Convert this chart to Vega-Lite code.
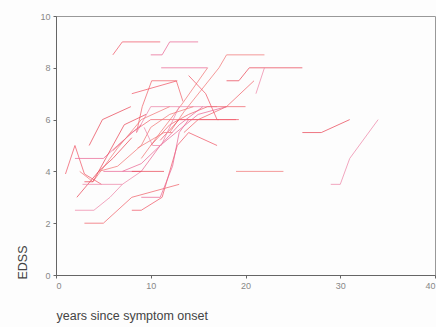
{
  "$schema": "https://vega.github.io/schema/vega-lite/v6.json",
  "width": 379,
  "height": 259,
  "autosize": "none",
  "padding": {"left": 56, "top": 16, "right": 1, "bottom": 52},
  "background": "#fdfdfd",
  "config": {
    "view": {"stroke": "#999", "strokeWidth": 1},
    "font": "Liberation Sans"
  },
  "data": {"values": [
    {"id":1,"t":6,"edss":8.5},{"id":1,"t":7,"edss":9},{"id":1,"t":11,"edss":9},
    {"id":2,"t":10,"edss":8.5},{"id":2,"t":11.2,"edss":8.5},{"id":2,"t":12,"edss":9},{"id":2,"t":15,"edss":9},
    {"id":3,"t":12,"edss":5.5},{"id":3,"t":13.5,"edss":6.3},{"id":3,"t":17.2,"edss":8},{"id":3,"t":18,"edss":8.5},{"id":3,"t":22,"edss":8.5},
    {"id":4,"t":18,"edss":7.5},{"id":4,"t":19.3,"edss":7.5},{"id":4,"t":20.4,"edss":8},{"id":4,"t":26,"edss":8},
    {"id":5,"t":21.1,"edss":7},{"id":5,"t":22,"edss":8},
    {"id":6,"t":8.5,"edss":5.5},{"id":6,"t":9.1,"edss":6.5},{"id":6,"t":10.1,"edss":7.5},{"id":6,"t":12.7,"edss":7.5},{"id":6,"t":13.4,"edss":6.7},
    {"id":7,"t":8,"edss":7},{"id":7,"t":12.8,"edss":7.5},
    {"id":8,"t":11.1,"edss":8},{"id":8,"t":16,"edss":8},
    {"id":9,"t":9,"edss":4.5},{"id":9,"t":11,"edss":5.5},{"id":9,"t":13.3,"edss":6.6},{"id":9,"t":16,"edss":8},
    {"id":10,"t":3.5,"edss":5},{"id":10,"t":4.9,"edss":6},{"id":10,"t":7.9,"edss":6.5},
    {"id":11,"t":8.5,"edss":5.5},{"id":11,"t":10,"edss":6.5},{"id":11,"t":17,"edss":6.5},
    {"id":12,"t":6,"edss":4.8},{"id":12,"t":8,"edss":5.5},{"id":12,"t":10,"edss":6},{"id":12,"t":17.2,"edss":6},
    {"id":13,"t":1,"edss":3.9},{"id":13,"t":2,"edss":5},{"id":13,"t":3,"edss":3.9},{"id":13,"t":4.8,"edss":3.5},
    {"id":14,"t":2,"edss":4.5},{"id":14,"t":5,"edss":4.5},{"id":14,"t":6.5,"edss":5},{"id":14,"t":9,"edss":5.8},
    {"id":15,"t":2.5,"edss":4},{"id":15,"t":3.9,"edss":3.6},{"id":15,"t":6.5,"edss":4.9},{"id":15,"t":9,"edss":6},{"id":15,"t":12,"edss":6.5},
    {"id":16,"t":3,"edss":3.6},{"id":16,"t":3.9,"edss":3.6},{"id":16,"t":7.2,"edss":5.8},{"id":16,"t":9.5,"edss":6.2},
    {"id":17,"t":2,"edss":2.5},{"id":17,"t":4,"edss":2.5},{"id":17,"t":5.7,"edss":3},{"id":17,"t":7,"edss":3.5},{"id":17,"t":9,"edss":4},
    {"id":18,"t":3,"edss":2},{"id":18,"t":5,"edss":2},{"id":18,"t":8,"edss":3},{"id":18,"t":13,"edss":3.5},
    {"id":19,"t":8,"edss":2.5},{"id":19,"t":9,"edss":2.5},{"id":19,"t":11.2,"edss":3},{"id":19,"t":12.8,"edss":5},{"id":19,"t":14,"edss":5.5},{"id":19,"t":17,"edss":5},
    {"id":20,"t":9,"edss":3},{"id":20,"t":11,"edss":3},{"id":20,"t":12.3,"edss":4.2},{"id":20,"t":13,"edss":5.5},{"id":20,"t":14,"edss":6},
    {"id":21,"t":19,"edss":4},{"id":21,"t":24,"edss":4},
    {"id":22,"t":26,"edss":5.5},{"id":22,"t":28,"edss":5.5},{"id":22,"t":31,"edss":6},
    {"id":23,"t":29,"edss":3.5},{"id":23,"t":30,"edss":3.5},{"id":23,"t":31,"edss":4.5},{"id":23,"t":34,"edss":6},
    {"id":24,"t":13.5,"edss":5.5},{"id":24,"t":15,"edss":6},{"id":24,"t":18,"edss":6.5},{"id":24,"t":20.9,"edss":7.5},
    {"id":25,"t":14,"edss":7.7},{"id":25,"t":15.8,"edss":7},{"id":25,"t":17,"edss":6},{"id":25,"t":19,"edss":6},
    {"id":26,"t":5,"edss":4},{"id":26,"t":7,"edss":4},{"id":26,"t":9,"edss":4},{"id":26,"t":11,"edss":5},{"id":26,"t":15,"edss":6.2},{"id":26,"t":18,"edss":6.5},
    {"id":27,"t":4.5,"edss":4},{"id":27,"t":6.5,"edss":4.2},{"id":27,"t":9,"edss":5},{"id":27,"t":10,"edss":5.7},{"id":27,"t":12,"edss":6.2},{"id":27,"t":14.5,"edss":6.5},
    {"id":28,"t":2.2,"edss":3},{"id":28,"t":4.5,"edss":4},{"id":28,"t":6,"edss":4.5},{"id":28,"t":8,"edss":5.3},
    {"id":29,"t":2.8,"edss":3.5},{"id":29,"t":7,"edss":3.5},
    {"id":30,"t":10,"edss":5},{"id":30,"t":12,"edss":5.8},{"id":30,"t":14,"edss":6.2},{"id":30,"t":16,"edss":6.5},{"id":30,"t":20,"edss":6.5},
    {"id":31,"t":11,"edss":5.2},{"id":31,"t":13,"edss":6},{"id":31,"t":19.3,"edss":6},
    {"id":32,"t":7,"edss":4},{"id":32,"t":9,"edss":4.3},{"id":32,"t":11,"edss":5},{"id":32,"t":13,"edss":5.8},{"id":32,"t":15.5,"edss":6.5},
    {"id":33,"t":8.6,"edss":4.9},{"id":33,"t":11.4,"edss":5.5},{"id":33,"t":12.3,"edss":5.5},
    {"id":34,"t":8,"edss":4},{"id":34,"t":11.4,"edss":4},
    {"id":35,"t":9.3,"edss":5.7},{"id":35,"t":10.2,"edss":5},{"id":35,"t":11.1,"edss":5},{"id":35,"t":13,"edss":6.5}
  ]},
  "mark": {"type": "line", "strokeWidth": 1, "opacity": 0.75},
  "encoding": {
    "x": {
      "field": "t", "type": "quantitative",
      "scale": {"domain": [0, 40], "nice": false},
      "axis": {
        "title": "years since symptom onset",
        "values": [0, 10, 20, 30, 40],
        "grid": false,
        "domainColor": "#666",
        "tickColor": "#666",
        "tickSize": 3,
        "labelColor": "#888",
        "labelFontSize": 9,
        "labelPadding": 3,
        "titleAnchor": "start",
        "titleAlign": "left",
        "titleBaseline": "middle",
        "titleX": 0,
        "titleY": 40,
        "titleFontSize": 12.5,
        "titleFontWeight": "normal",
        "titleColor": "#444"
      }
    },
    "y": {
      "field": "edss", "type": "quantitative",
      "scale": {"domain": [0, 10], "nice": false},
      "axis": {
        "title": "EDSS",
        "values": [0, 2, 4, 6, 8, 10],
        "grid": false,
        "domainColor": "#666",
        "tickColor": "#666",
        "tickSize": 3,
        "labelColor": "#888",
        "labelFontSize": 9,
        "labelPadding": 3,
        "titleAngle": -90,
        "titleX": -34,
        "titleY": 246,
        "titleAlign": "center",
        "titleBaseline": "middle",
        "titleFontSize": 12.5,
        "titleFontWeight": "normal",
        "titleColor": "#444"
      }
    },
    "detail": {"field": "id", "type": "nominal"},
    "color": {
      "field": "id", "type": "nominal", "legend": null,
      "scale": {"range": ["#f05a6a", "#e96a95", "#f27a7a", "#ea4a5a", "#ee88aa", "#f0666e"]}
    }
  }
}
